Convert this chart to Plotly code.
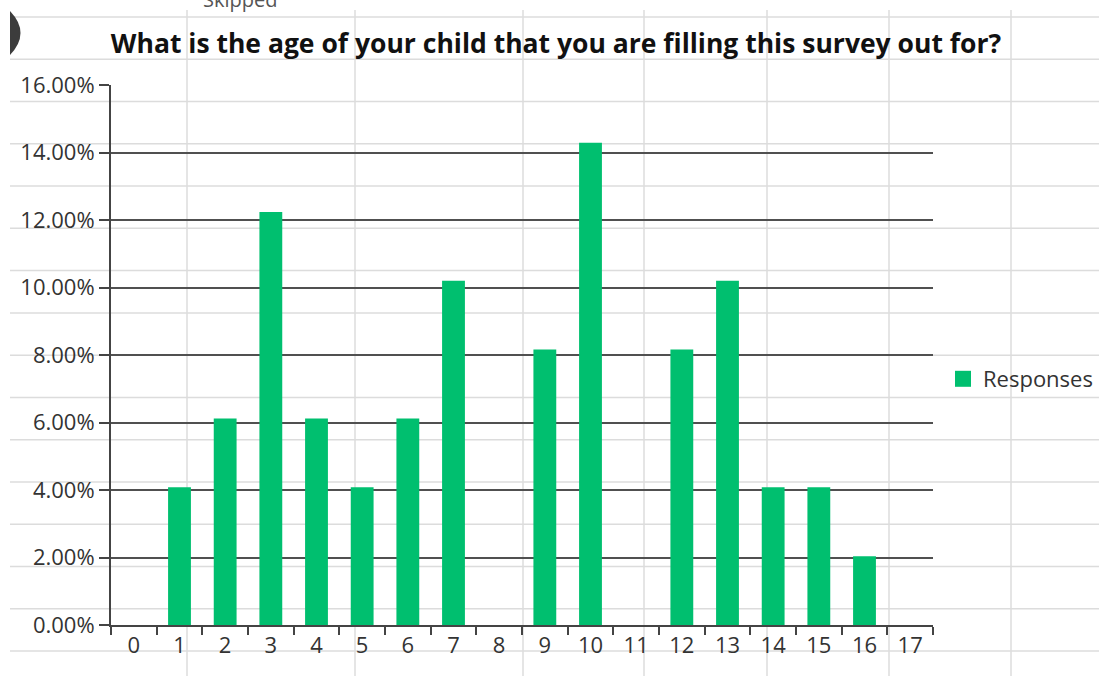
import plotly.graph_objects as go

# Data
ages = ["0", "1", "2", "3", "4", "5", "6", "7", "8", "9", "10", "11", "12", "13", "14", "15", "16", "17"]
responses = [0.0, 0.0408, 0.0612, 0.1224, 0.0612, 0.0408, 0.0612, 0.1020, 0.0, 0.0816,
             0.1429, 0.0, 0.0816, 0.1020, 0.0408, 0.0408, 0.0204, 0.0]
series_name = "Responses"
title_text = "What is the age of your child that you are filling this survey out for?"

W, H = 1099, 676
GREEN = "#00BF6F"
FONT = "Open Sans"


def px_x(p):
    return p / W


def px_y(p):
    return 1 - p / H


fig = go.Figure()
fig.add_trace(go.Bar(x=ages, y=responses, marker=dict(color=GREEN, line=dict(width=0)),
                     name=series_name, showlegend=False))
fig.add_trace(go.Scatter(x=[None], y=[None], mode="markers", name=series_name,
                         marker=dict(symbol="square", size=18, color=GREEN)))

# Spreadsheet cell grid in background
shapes = []
for vx in [187, 355, 523, 644, 767, 889, 1011]:
    shapes.append(dict(type="line", xref="paper", yref="paper", x0=px_x(vx), x1=px_x(vx),
                       y0=0, y1=px_y(10), line=dict(color="#DCDCDC", width=1.5), layer="below"))
for k in range(16):
    hy = 17 + 42.27 * k
    shapes.append(dict(type="line", xref="paper", yref="paper", x0=px_x(10), x1=1,
                       y0=px_y(hy), y1=px_y(hy), line=dict(color="#DCDCDC", width=1.5), layer="below"))
# partial dark shape at the top-left edge
path = "M {:.5f},{:.5f} Q {:.5f},{:.5f} {:.5f},{:.5f} Z".format(
    px_x(10), px_y(11), px_x(31), px_y(33), px_x(10), px_y(55))
shapes.append(dict(type="path", xref="paper", yref="paper", path=path,
                   fillcolor="#3C3C3C", line=dict(width=0), layer="above"))

fig.update_layout(
    width=W, height=H,
    margin=dict(l=0, r=0, t=0, b=0, autoexpand=False),
    paper_bgcolor="white", plot_bgcolor="rgba(0,0,0,0)",
    bargap=0.5,
    font=dict(family=FONT, size=22, color="#333333"),
    title=dict(text="<b>" + title_text + "</b>", x=px_x(556), xanchor="center",
               y=px_y(44), yanchor="middle", font=dict(family=FONT, size=26.5, color="#111111")),
    xaxis=dict(domain=[px_x(111), px_x(933)], type="category", range=[-0.5, 17.5],
               showline=True, linecolor="#444444", linewidth=2, ticks="outside",
               tickson="boundaries", ticklen=8, tickwidth=2, tickcolor="#444444",
               showgrid=False, tickfont=dict(size=22, color="#333333")),
    yaxis=dict(domain=[px_y(625), px_y(85)], range=[0, 0.16], dtick=0.02, tickformat=".2%",
               showline=True, linecolor="#444444", linewidth=2, ticks="outside", ticklen=10,
               tickwidth=2, tickcolor="#444444", showgrid=True, gridcolor="#505050", gridwidth=2,
               zeroline=False, tickfont=dict(size=22, color="#333333")),
    legend=dict(x=px_x(943), xanchor="left", y=px_y(379), yanchor="middle",
                font=dict(size=22, color="#333333"), bgcolor="rgba(0,0,0,0)"),
    shapes=shapes,
    annotations=[dict(text="Skipped", xref="paper", yref="paper", x=px_x(240), y=px_y(15),
                      xanchor="center", yanchor="bottom", showarrow=False,
                      font=dict(family=FONT, size=20, color="#555555"))],
)

fig.write_html("out.html", config={"displayModeBar": False},
               post_script="document.body.style.margin='0px';")
